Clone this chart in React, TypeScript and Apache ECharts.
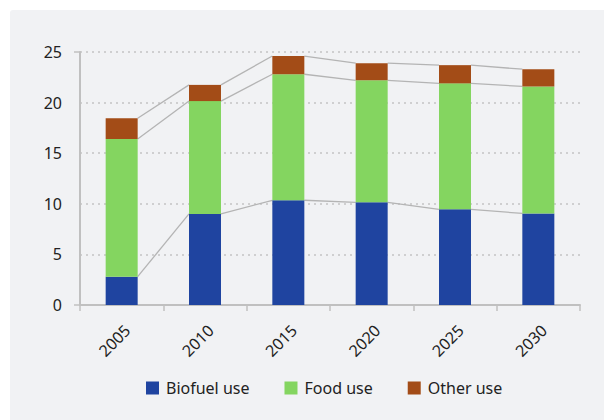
import React, { useEffect, useRef } from "react";
import * as echarts from "echarts";

const years = ["2005", "2010", "2015", "2020", "2025", "2030"];
const biofuelUse = [2.8, 9.0, 10.35, 10.15, 9.45, 9.05];
const foodUse = [13.6, 11.15, 12.45, 12.05, 12.45, 12.55];
const otherUse = [2.05, 1.6, 1.8, 1.7, 1.8, 1.7];

const BAR_W = 32;

export default function App() {
  const ref = useRef<HTMLDivElement>(null);
  useEffect(() => {
    if (!ref.current) return;
    const chart = echarts.init(ref.current, null, { renderer: "svg" });
    const cum1 = biofuelUse;
    const cum2 = biofuelUse.map((v, i) => v + foodUse[i]);
    const cum3 = cum2.map((v, i) => v + otherUse[i]);
    const connectorData: number[][] = [];
    [cum1, cum2, cum3].forEach((c) => {
      for (let i = 0; i < c.length - 1; i++) connectorData.push([i, c[i], c[i + 1]]);
    });
    const font = "'Noto Sans', sans-serif";
    chart.setOption({
      animation: false,
      backgroundColor: "#ffffff",
      graphic: [
        {
          type: "rect",
          shape: { x: 10, y: 10, width: 620, height: 430, r: 3 },
          style: { fill: "#f1f2f4" },
          z: -10,
          silent: true,
        },
      ],
      grid: { left: 80, right: 24, top: 52, bottom: 115, containLabel: false },
      legend: {
        data: ["Biofuel use", "Food use", "Other use"],
        top: 375,
        left: 141,
        icon: "rect",
        itemWidth: 13,
        itemHeight: 13,
        itemGap: 35,
        textStyle: { fontFamily: font, fontSize: 16, color: "#222", padding: [0, 0, 0, 2] },
      },
      xAxis: {
        type: "category",
        data: years,
        axisLine: { lineStyle: { color: "#c0c0c0", width: 2 } },
        axisTick: { show: true, length: 6, alignWithLabel: false, lineStyle: { color: "#c0c0c0", width: 1.5 } },
        axisLabel: { rotate: 45, fontFamily: font, fontSize: 16, color: "#222", margin: 17, verticalAlign: "top" },
      },
      yAxis: [
        {
          type: "value",
          min: 0,
          max: 25,
          interval: 5,
          axisLine: { show: true, lineStyle: { color: "#c0c0c0", width: 2 } },
          axisTick: { show: false },
          axisLabel: { fontFamily: font, fontSize: 16, color: "#222", margin: 18 },
          splitLine: { lineStyle: { color: "#c4c4c4", type: [2, 4], width: 1.5 } },
        },
        {
          type: "value",
          position: "left",
          min: 0,
          max: 25,
          interval: 25,
          axisLine: { show: false },
          axisTick: { show: true, length: 6, lineStyle: { color: "#c0c0c0", width: 1.5 } },
          axisLabel: { show: false },
          splitLine: { show: false },
        },
      ],
      series: [
        {
          name: "connectors",
          type: "custom",
          z: 1,
          data: connectorData,
          encode: { x: 0, y: [1, 2] },
          renderItem: (params: any, api: any) => {
            const idx = api.value(0);
            const p0 = api.coord([idx, api.value(1)]);
            const p1 = api.coord([idx + 1, api.value(2)]);
            return {
              type: "line",
              shape: { x1: p0[0] + BAR_W / 2, y1: p0[1], x2: p1[0] - BAR_W / 2, y2: p1[1] },
              style: { stroke: "#b4b4b4", lineWidth: 1.3 },
            };
          },
        },
        { name: "Biofuel use", type: "bar", stack: "t", barWidth: BAR_W, data: biofuelUse, itemStyle: { color: "#1f44a0" }, z: 2 },
        { name: "Food use", type: "bar", stack: "t", barWidth: BAR_W, data: foodUse, itemStyle: { color: "#84d560" }, z: 2 },
        { name: "Other use", type: "bar", stack: "t", barWidth: BAR_W, data: otherUse, itemStyle: { color: "#a34c17" }, z: 2 },
      ],
    });
    return () => chart.dispose();
  }, []);
  return <div ref={ref} style={{ position: "absolute", left: 0, top: 0, width: 604, height: 420 }} />;
}
